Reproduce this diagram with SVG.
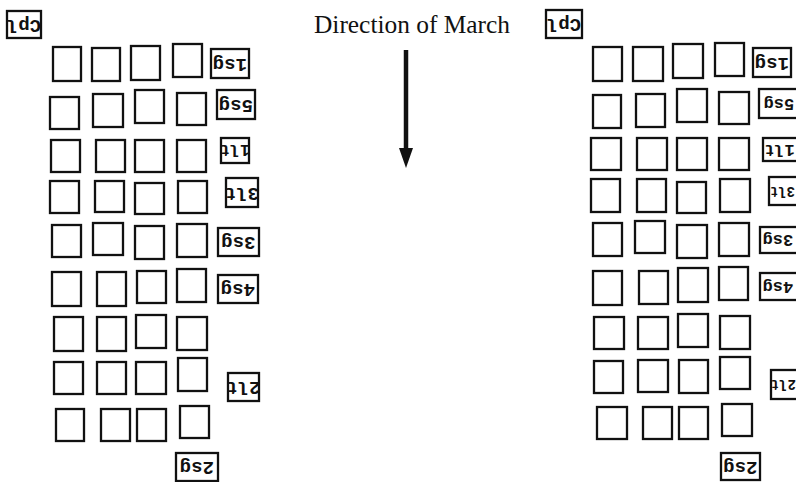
<svg xmlns="http://www.w3.org/2000/svg" width="796" height="482" viewBox="0 0 796 482">
<style>
.sq{fill:none;stroke:#111;stroke-width:2.3}
.lb rect{fill:#fff;stroke:#111;stroke-width:2.3}
.lb text{font-family:"Liberation Mono","DejaVu Sans Mono",monospace;font-size:19px;font-weight:bold;fill:#111;text-anchor:middle}
.lb text.s{font-size:17px}
.lb text.xs{font-size:14px}
.title{font-family:"Liberation Serif","Times New Roman",serif;font-size:25.4px;fill:#111}
.shaft{stroke:#111;stroke-width:4.5}
.head{fill:#111}
</style>
<rect width="796" height="482" fill="#fff"/>
<text class="title" x="314" y="33">Direction of March</text>
<g id="connectors">
<line class="shaft" x1="406" y1="50" x2="406" y2="149"/>
<path class="head" d="M399,148 L413,148 L406,168 Z"/>
</g>

<!-- Left formation -->
<g id="left-squares">
<g id="L1-1"><rect class="sq" x="53" y="47" width="28" height="34"/></g>
<g id="L1-2"><rect class="sq" x="92" y="48" width="28" height="33"/></g>
<g id="L1-3"><rect class="sq" x="131" y="46" width="29" height="34"/></g>
<g id="L1-4"><rect class="sq" x="173" y="44" width="29" height="33"/></g>
<g id="L2-1"><rect class="sq" x="50" y="97" width="29" height="32"/></g>
<g id="L2-2"><rect class="sq" x="93" y="94" width="30" height="33"/></g>
<g id="L2-3"><rect class="sq" x="135" y="90" width="29" height="33"/></g>
<g id="L2-4"><rect class="sq" x="177" y="93" width="29" height="32"/></g>
<g id="L3-1"><rect class="sq" x="51" y="140" width="29" height="32"/></g>
<g id="L3-2"><rect class="sq" x="96" y="140" width="29" height="32"/></g>
<g id="L3-3"><rect class="sq" x="135" y="140" width="29" height="32"/></g>
<g id="L3-4"><rect class="sq" x="177" y="140" width="29" height="32"/></g>
<g id="L4-1"><rect class="sq" x="50" y="181" width="29" height="32"/></g>
<g id="L4-2"><rect class="sq" x="95" y="181" width="29" height="31"/></g>
<g id="L4-3"><rect class="sq" x="135" y="183" width="29" height="31"/></g>
<g id="L4-4"><rect class="sq" x="178" y="181" width="29" height="32"/></g>
<g id="L5-1"><rect class="sq" x="52" y="225" width="29" height="32"/></g>
<g id="L5-2"><rect class="sq" x="93" y="223" width="30" height="32"/></g>
<g id="L5-3"><rect class="sq" x="135" y="226" width="29" height="33"/></g>
<g id="L5-4"><rect class="sq" x="177" y="224" width="30" height="33"/></g>
<g id="L6-1"><rect class="sq" x="52" y="272" width="29" height="34"/></g>
<g id="L6-2"><rect class="sq" x="97" y="272" width="29" height="34"/></g>
<g id="L6-3"><rect class="sq" x="137" y="271" width="29" height="32"/></g>
<g id="L6-4"><rect class="sq" x="177" y="269" width="29" height="33"/></g>
<g id="L7-1"><rect class="sq" x="54" y="317" width="29" height="34"/></g>
<g id="L7-2"><rect class="sq" x="97" y="317" width="29" height="34"/></g>
<g id="L7-3"><rect class="sq" x="136" y="315" width="30" height="33"/></g>
<g id="L7-4"><rect class="sq" x="177" y="317" width="30" height="33"/></g>
<g id="L8-1"><rect class="sq" x="54" y="362" width="29" height="32"/></g>
<g id="L8-2"><rect class="sq" x="97" y="362" width="29" height="32"/></g>
<g id="L8-3"><rect class="sq" x="136" y="362" width="30" height="32"/></g>
<g id="L8-4"><rect class="sq" x="178" y="358" width="29" height="33"/></g>
<g id="L9-1"><rect class="sq" x="56" y="409" width="28" height="32"/></g>
<g id="L9-2"><rect class="sq" x="101" y="409" width="29" height="32"/></g>
<g id="L9-3"><rect class="sq" x="137" y="409" width="29" height="32"/></g>
<g id="L9-4"><rect class="sq" x="180" y="406" width="29" height="32"/></g>
</g>
<g id="left-labels">
<g id="L-cpl" class="lb"><rect x="7" y="11" width="34" height="27"/><text x="24" y="29.5" transform="rotate(180 24 24.5)">Cpl</text></g>
<g id="L-1sg" class="lb"><rect x="211" y="49" width="38" height="29"/><text x="230" y="68.5" transform="rotate(180 230 63.5)">1sg</text></g>
<g id="L-5sg" class="lb"><rect x="217" y="90" width="38" height="29"/><text x="236" y="109.5" transform="rotate(180 236 104.5)">5sg</text></g>
<g id="L-1lt" class="lb"><rect x="221" y="138" width="28" height="25"/><text class="s" x="235" y="156" transform="rotate(180 235 150.5)">1lt</text></g>
<g id="L-3lt" class="lb"><rect x="226" y="178" width="32" height="29"/><text x="242" y="197.5" transform="rotate(180 242 192.5)">3lt</text></g>
<g id="L-3sg" class="lb"><rect x="218" y="228" width="41" height="28"/><text x="238.5" y="247" transform="rotate(180 238.5 242)">3sg</text></g>
<g id="L-4sg" class="lb"><rect x="218" y="275" width="40" height="28"/><text x="238" y="294" transform="rotate(180 238 289)">4sg</text></g>
<g id="L-2lt" class="lb"><rect x="228" y="373" width="31" height="28"/><text x="243.5" y="392" transform="rotate(180 243.5 387)">2lt</text></g>
<g id="L-2sg" class="lb"><rect x="176" y="453" width="42" height="28"/><text x="197" y="472" transform="rotate(180 197 467)">2sg</text></g>
</g>

<!-- Right formation -->
<g id="right-squares">
<g id="R1-1"><rect class="sq" x="593" y="47" width="29" height="34"/></g>
<g id="R1-2"><rect class="sq" x="633" y="47" width="30" height="34"/></g>
<g id="R1-3"><rect class="sq" x="673" y="44" width="30" height="34"/></g>
<g id="R1-4"><rect class="sq" x="715" y="43" width="29" height="33"/></g>
<g id="R2-1"><rect class="sq" x="593" y="95" width="28" height="33"/></g>
<g id="R2-2"><rect class="sq" x="636" y="94" width="29" height="33"/></g>
<g id="R2-3"><rect class="sq" x="677" y="89" width="30" height="33"/></g>
<g id="R2-4"><rect class="sq" x="719" y="92" width="30" height="32"/></g>
<g id="R3-1"><rect class="sq" x="591" y="138" width="30" height="32"/></g>
<g id="R3-2"><rect class="sq" x="637" y="138" width="30" height="32"/></g>
<g id="R3-3"><rect class="sq" x="677" y="138" width="30" height="32"/></g>
<g id="R3-4"><rect class="sq" x="719" y="138" width="30" height="32"/></g>
<g id="R4-1"><rect class="sq" x="591" y="179" width="29" height="33"/></g>
<g id="R4-2"><rect class="sq" x="637" y="179" width="29" height="33"/></g>
<g id="R4-3"><rect class="sq" x="677" y="182" width="29" height="31"/></g>
<g id="R4-4"><rect class="sq" x="720" y="179" width="30" height="33"/></g>
<g id="R5-1"><rect class="sq" x="593" y="223" width="29" height="33"/></g>
<g id="R5-2"><rect class="sq" x="635" y="221" width="30" height="32"/></g>
<g id="R5-3"><rect class="sq" x="677" y="225" width="30" height="33"/></g>
<g id="R5-4"><rect class="sq" x="719" y="223" width="30" height="33"/></g>
<g id="R6-1"><rect class="sq" x="593" y="271" width="29" height="34"/></g>
<g id="R6-2"><rect class="sq" x="639" y="271" width="29" height="33"/></g>
<g id="R6-3"><rect class="sq" x="678" y="268" width="30" height="34"/></g>
<g id="R6-4"><rect class="sq" x="719" y="267" width="29" height="33"/></g>
<g id="R7-1"><rect class="sq" x="594" y="317" width="30" height="32"/></g>
<g id="R7-2"><rect class="sq" x="638" y="317" width="30" height="32"/></g>
<g id="R7-3"><rect class="sq" x="678" y="314" width="30" height="33"/></g>
<g id="R7-4"><rect class="sq" x="720" y="316" width="30" height="33"/></g>
<g id="R8-1"><rect class="sq" x="594" y="361" width="29" height="32"/></g>
<g id="R8-2"><rect class="sq" x="638" y="360" width="30" height="32"/></g>
<g id="R8-3"><rect class="sq" x="679" y="360" width="29" height="33"/></g>
<g id="R8-4"><rect class="sq" x="720" y="357" width="30" height="32"/></g>
<g id="R9-1"><rect class="sq" x="597" y="407" width="30" height="32"/></g>
<g id="R9-2"><rect class="sq" x="643" y="407" width="29" height="32"/></g>
<g id="R9-3"><rect class="sq" x="679" y="407" width="29" height="32"/></g>
<g id="R9-4"><rect class="sq" x="722" y="404" width="30" height="32"/></g>
</g>
<g id="right-labels">
<g id="R-cpl" class="lb"><rect x="546" y="10" width="36" height="28"/><text x="564" y="29" transform="rotate(180 564 24)">Cpl</text></g>
<g id="R-1sg" class="lb"><rect x="753" y="48" width="38" height="29"/><text x="772" y="67.5" transform="rotate(180 772 62.5)">1sg</text></g>
<g id="R-5sg" class="lb"><rect x="759" y="89" width="40" height="29"/><text class="s" x="779" y="108.5" transform="rotate(180 779 103.5)">5sg</text></g>
<g id="R-1lt" class="lb"><rect x="763" y="138" width="36" height="23"/><text class="s" x="779.5" y="154.5" transform="rotate(180 779.5 149.5)">1lt</text></g>
<g id="R-3lt" class="lb"><rect x="769" y="177" width="34" height="28"/><text class="xs" x="782.5" y="195.5" transform="rotate(180 782.5 191)">3lt</text></g>
<g id="R-3sg" class="lb"><rect x="760" y="227" width="42" height="26"/><text class="s" x="778" y="245" transform="rotate(180 778 240)">3sg</text></g>
<g id="R-4sg" class="lb"><rect x="760" y="273" width="42" height="27"/><text class="s" x="778" y="291.5" transform="rotate(180 778 286.5)">4sg</text></g>
<g id="R-2lt" class="lb"><rect x="771" y="370" width="32" height="29"/><text class="xs" x="783.3" y="389" transform="rotate(180 783.3 384.5)">2lt</text></g>
<g id="R-2sg" class="lb"><rect x="721" y="453" width="39" height="27"/><text x="740.5" y="471.5" transform="rotate(180 740.5 466.5)">2sg</text></g>
</g>
</svg>
